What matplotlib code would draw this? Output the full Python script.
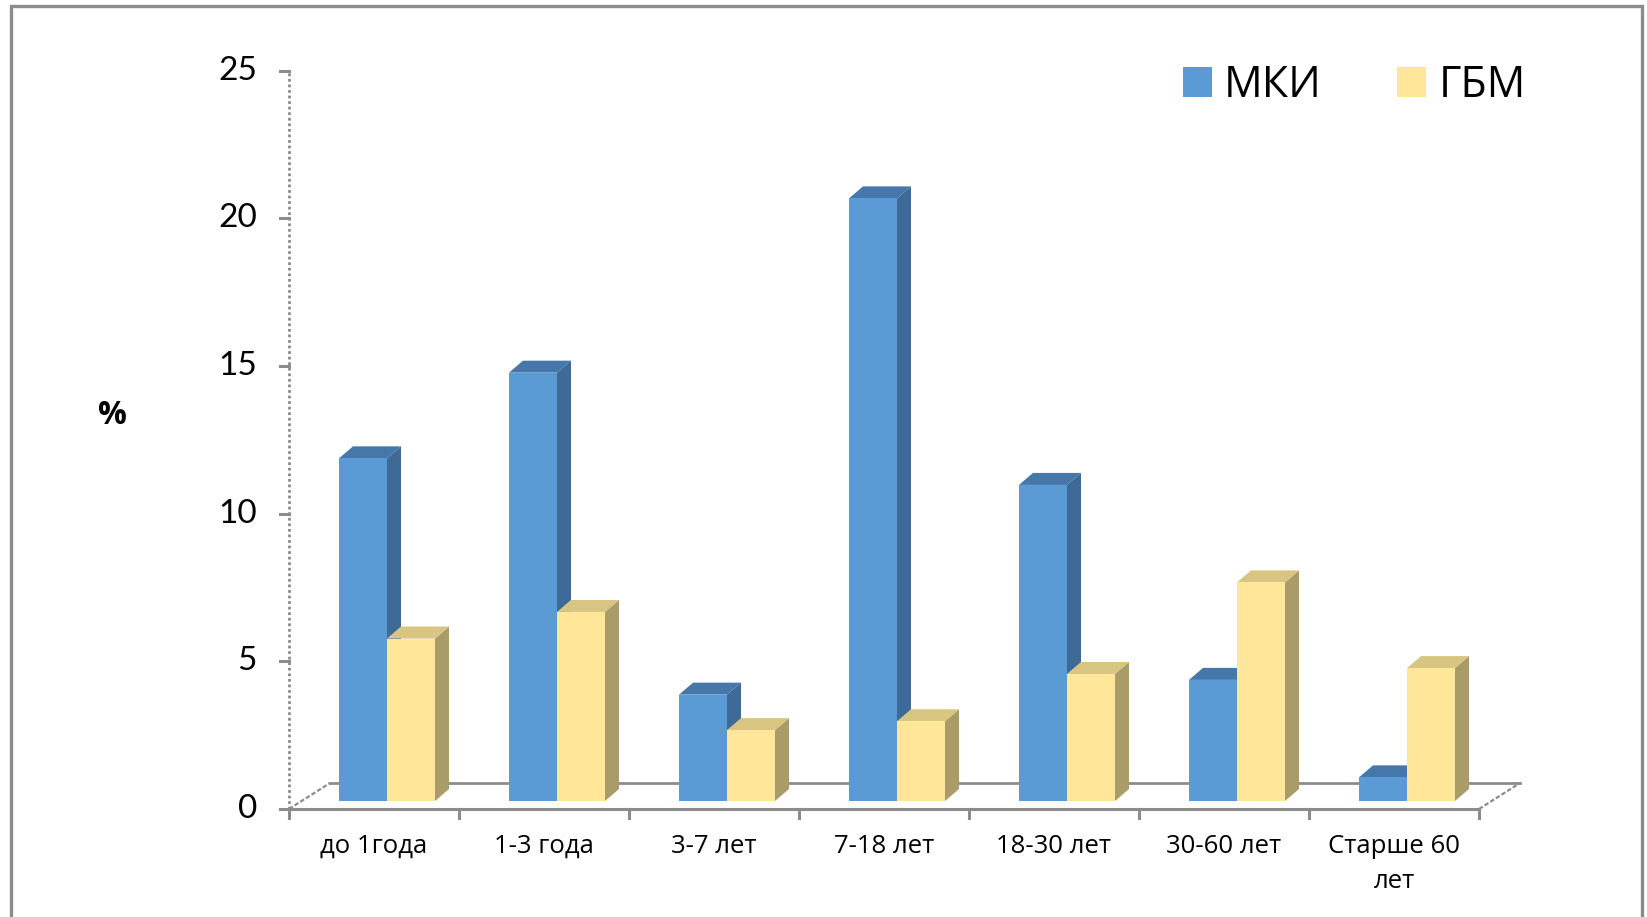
import matplotlib
matplotlib.use("Agg")
import matplotlib.pyplot as plt
from matplotlib.patches import Polygon, Rectangle, Patch
from matplotlib.lines import Line2D

categories = ["до 1года", "1-3 года", "3-7 лет", "7-18 лет", "18-30 лет", "30-60 лет", "Старше 60\nлет"]
mki = [11.6, 14.5, 3.6, 20.4, 10.7, 4.1, 0.8]
gbm = [5.5, 6.4, 2.4, 2.7, 4.3, 7.4, 4.5]
series_names = ["МКИ", "ГБМ"]
y_ticks = [0, 5, 10, 15, 20, 25]

W, H = 1647, 917
fig = plt.figure(figsize=(W / 100, H / 100), dpi=100)

# axes: front-left corner of the floor and the value scale
x_left, x_right = 289, 1479
y_zero, y_top = 809, 70.5
ax = fig.add_axes([x_left / W, (H - y_zero) / H, (x_right - x_left) / W, (y_zero - y_top) / H])
n = len(categories)
ax.set_xlim(0, n)
ax.set_ylim(0, 25)
ax.axis("off")

px_x = (x_right - x_left) / n          # pixels per category
px_y = (y_zero - y_top) / 25.0         # pixels per unit

def dxp(p):
    return p / px_x

def dyp(p):
    return p / px_y

grey = "#8C8C8C"

# floor outline (oblique depth), kept behind the columns
fdx, fdy = dxp(41), dyp(26)
ax.add_line(Line2D([0, n], [0, 0], color=grey, lw=2.2, clip_on=False, zorder=3))
ax.add_line(Line2D([fdx, n + fdx], [fdy, fdy], color=grey, lw=2.0, clip_on=False, zorder=0.5))
ax.add_line(Line2D([0, fdx], [0, fdy], color=grey, lw=1.6, ls=(0, (2, 1)), clip_on=False, zorder=0.5))
ax.add_line(Line2D([n, n + fdx], [0, fdy], color=grey, lw=1.6, ls=(0, (2, 1)), clip_on=False, zorder=0.5))
# category tick marks below the front edge
for i in range(n + 1):
    ax.add_line(Line2D([i, i], [0, -dyp(9)], color=grey, lw=2.2, clip_on=False, zorder=3))

# value axis: dotted line with ticks on the left
ax.add_line(Line2D([0, 0], [0, 25], color=grey, lw=2.0, ls=(0, (1, 1)), clip_on=False))
for t in y_ticks:
    ax.add_line(Line2D([-dxp(9), 0], [t, t], color=grey, lw=2.2, clip_on=False))
    ax.text(-dxp(32), t, str(t), ha="right", va="center", fontsize=24,
            family=["Lato", "DejaVu Sans"], color="black")

# 3D-looking columns
bar_w = dxp(48)
bx0, by0 = dxp(13), dyp(8)
sdx, sdy = dxp(14), dyp(12)
styles = [
    dict(front="#5B9BD5", top="#4677AA", side="#3D6A96"),
    dict(front="#FFE699", top="#D9C582", side="#A99C69"),
]

def draw_column(x0, h, st):
    x1 = x0 + bar_w
    b = by0
    t = by0 + h
    ax.add_patch(Polygon([(x1, b), (x1 + sdx, b + sdy), (x1 + sdx, t + sdy), (x1, t)],
                         closed=True, fc=st["side"], ec="none", clip_on=False, zorder=1))
    ax.add_patch(Polygon([(x0, t), (x0 + sdx, t + sdy), (x1 + sdx, t + sdy), (x1, t)],
                         closed=True, fc=st["top"], ec="none", clip_on=False, zorder=1))
    ax.add_patch(Rectangle((x0, b), bar_w, h, fc=st["front"], ec="none", clip_on=False, zorder=1))

for i in range(n):
    center = i + 0.5 + bx0
    draw_column(center - bar_w, mki[i], styles[0])
    draw_column(center, gbm[i], styles[1])
    ax.text(i + 0.5, -dyp(25), categories[i], ha="center", va="top", fontsize=18.5,
            family=["Open Sans", "DejaVu Sans"], linespacing=1.55)

# axis title
fig.text(112 / W, 1 - 416 / H, "%", ha="center", va="center", fontsize=23,
         fontweight="bold", family=["Open Sans", "DejaVu Sans"])

# legend
handles = [Patch(fc=styles[0]["front"], ec="none"), Patch(fc=styles[1]["front"], ec="none")]
fig.legend(handles, series_names, loc="center left", bbox_to_anchor=(1161 / W, 1 - 86 / H),
           ncol=2, frameon=False, handlelength=0.68, handleheight=0.68,
           handletextpad=0.28, columnspacing=1.75, borderpad=0,
           prop={"family": ["Open Sans", "DejaVu Sans"], "size": 31})

# outer frame
fig.patches.append(Rectangle((11 / W, -0.05), (1642 - 11) / W, 1.05 - 6 / H,
                             transform=fig.transFigure, fill=False, ec="#8C8C8C", lw=2.4))

fig.savefig("out.png", dpi=100)
